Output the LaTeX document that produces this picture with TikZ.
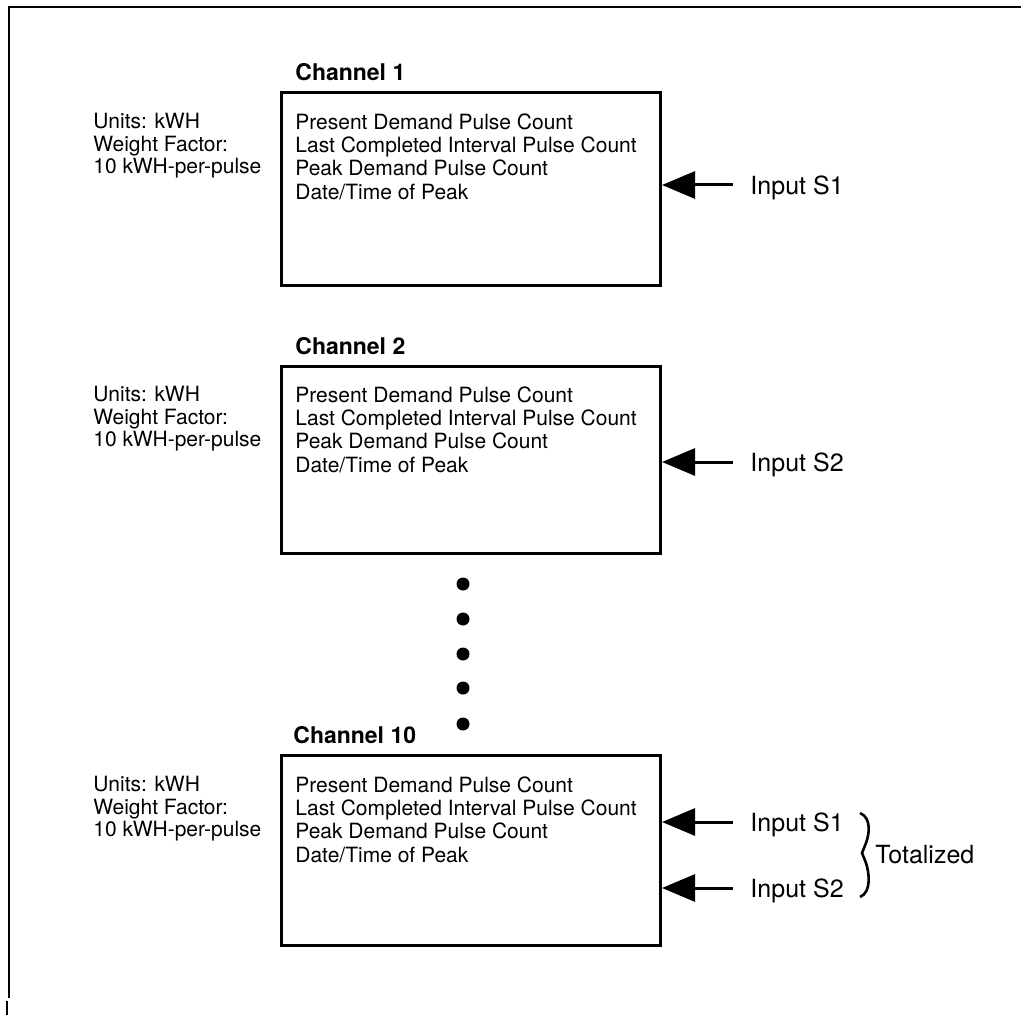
\documentclass[tikz,border=0pt]{standalone}
\usepackage{fontspec}
\setmainfont{TeX Gyre Heros}
\usetikzlibrary{positioning, arrows.meta, calc}

\tikzset{
  chbox/.style={draw, line width=1.5pt, minimum width=189.5pt, anchor=north west, inner sep=0pt},
  chtitle/.style={font=\fontsize{11.5}{13}\selectfont\bfseries, anchor=base west, inner sep=0pt},
  fields/.style={font=\fontsize{10.5}{11.7}\selectfont, align=left, anchor=north west, inner sep=0pt},
  units/.style={font=\fontsize{10.5}{11.3}\selectfont, align=left, anchor=north west, inner sep=0pt},
  inlabel/.style={font=\fontsize{12.5}{14}\selectfont, anchor=west, inner xsep=8.5pt, inner ysep=0pt, text depth=0pt},
  feed/.style={-{Triangle[length=16.5pt, width=13.5pt]}, line width=1.5pt},
  dot/.style={circle, fill, inner sep=0pt, minimum size=6.5pt}
}

\begin{document}
\begin{tikzpicture}[x=0.5pt, y=-0.5pt]
    \useasboundingbox (0,0) rectangle (1021,1015);

    % Page frame (top and left edge)
    \draw[line width=1pt] (1021,7) -- (9,7) -- (9,998);
    \draw[line width=1pt] (7,1001) -- (7,1015);

    % Channel 1
    \node[chbox, minimum height=96.5pt] (ch1) at (280,91) {};
    \node[chtitle] (t1) at (295,81) {Channel 1};
    \node[units] (u1) at (93,113) {Units: kWH\\Weight Factor:\\10 kWH-per-pulse};
    \node[fields] (f1) at (295,113) {Present Demand Pulse Count\\Last Completed Interval Pulse Count\\Peak Demand Pulse Count\\Date/Time of Peak};
    \node[inlabel] (s1a) at (733,185) {Input S1};
    \draw[feed] (s1a) -- (s1a -| ch1.east);

    % Channel 2
    \node[chbox, minimum height=93.5pt] (ch2) at (280,365) {};
    \node[chtitle] (t2) at (295,355) {Channel 2};
    \node[units] (u2) at (93,386) {Units: kWH\\Weight Factor:\\10 kWH-per-pulse};
    \node[fields] (f2) at (295,386) {Present Demand Pulse Count\\Last Completed Interval Pulse Count\\Peak Demand Pulse Count\\Date/Time of Peak};
    \node[inlabel] (s2b) at (733,462) {Input S2};
    \draw[feed] (s2b) -- (s2b -| ch2.east);

    % Channels 3 to 9 left out
    \foreach \y in {584,619,654,688,724}
        \node[dot] (d\y) at (463,\y) {};

    % Channel 10 (totalized)
    \node[chbox, minimum height=95pt] (ch10) at (280,754) {};
    \node[chtitle] (t10) at (293,743) {Channel 10};
    \node[units] (u10) at (93,776) {Units: kWH\\Weight Factor:\\10 kWH-per-pulse};
    \node[fields] (f10) at (295,776) {Present Demand Pulse Count\\Last Completed Interval Pulse Count\\Peak Demand Pulse Count\\Date/Time of Peak};
    \node[inlabel] (s1c) at (733,822) {Input S1};
    \node[inlabel] (s2c) at (733,888) {Input S2};
    \draw[feed] (s1c) -- (s1c -| ch10.east);
    \draw[feed] (s2c) -- (s2c -| ch10.east);

    % Brace joining both inputs
    \draw[line width=1.3pt] (860,813) .. controls (872,818) and (869,835) .. (866,843)
        .. controls (864,848) .. (862,853)
        .. controls (864,858) .. (866,863)
        .. controls (869,872) and (872,892) .. (860,897);
    \node[inlabel, inner xsep=0pt] (tot) at (875,854) {Totalized};
\end{tikzpicture}
\end{document}
